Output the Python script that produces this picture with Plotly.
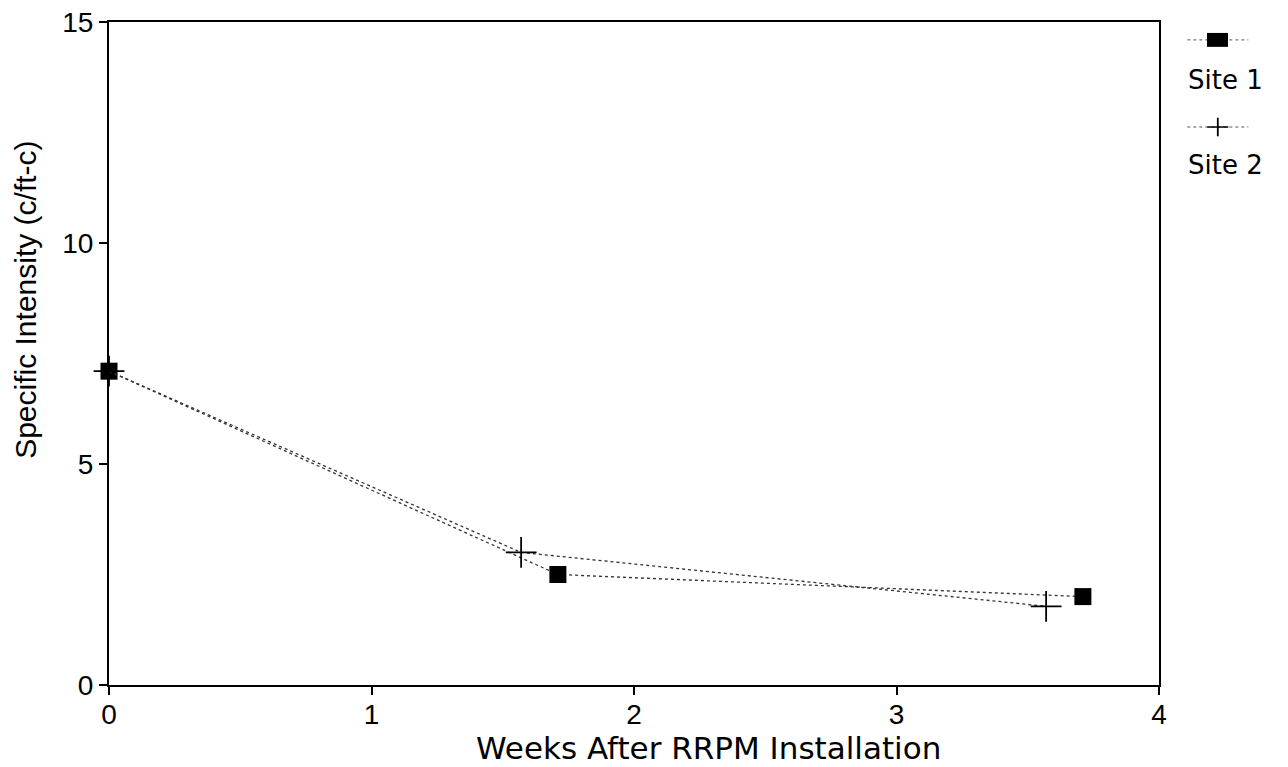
import plotly.graph_objects as go

# Data
site1_weeks = [0, 1.71, 3.71]
site1_intensity = [7.1, 2.5, 2.0]
site2_weeks = [0, 1.57, 3.57]
site2_intensity = [7.1, 3.0, 1.78]

x_ticks = [0, 1, 2, 3, 4]
y_ticks = [0, 5, 10, 15]

font_family = "Liberation Sans, Arial, sans-serif"
wide_family = "DejaVu Sans, Liberation Sans, sans-serif"

fig = go.Figure()

fig.add_trace(go.Scatter(
    x=site1_weeks, y=site1_intensity, mode="lines+markers", name="Site 1",
    line=dict(color="#333333", width=1.3, dash="dot"),
    marker=dict(symbol="square", size=17, color="black"),
    cliponaxis=False, showlegend=False,
))
fig.add_trace(go.Scatter(
    x=site2_weeks, y=site2_intensity, mode="lines+markers", name="Site 2",
    line=dict(color="#333333", width=1.3, dash="dot"),
    marker=dict(symbol="cross-thin", size=22, line=dict(color="black", width=1.8)),
    cliponaxis=False, showlegend=False,
))

# Custom legend: symbol above label, to the right of the plot
legend_items = [("Site 1", 0.973, 0.9125, "square"), ("Site 2", 0.8416, 0.784, "plus")]
for label, ysym, ytext, sym in legend_items:
    fig.add_shape(type="line", xref="paper", yref="paper",
                  x0=1.027, x1=1.085, y0=ysym, y1=ysym,
                  line=dict(color="#555555", width=1, dash="dot"))
    if sym == "square":
        fig.add_shape(type="rect", xref="paper", yref="paper",
                      x0=1.0457, x1=1.0657, y0=ysym - 0.0105, y1=ysym + 0.0105,
                      fillcolor="black", line=dict(width=0))
    else:
        fig.add_shape(type="line", xref="paper", yref="paper",
                      x0=1.056, x1=1.056, y0=ysym - 0.014, y1=ysym + 0.014,
                      line=dict(color="black", width=1.8))
        fig.add_shape(type="line", xref="paper", yref="paper",
                      x0=1.046, x1=1.066, y0=ysym, y1=ysym,
                      line=dict(color="black", width=1.5))
    fig.add_annotation(text=label, xref="paper", yref="paper",
                       x=1.026, y=ytext, xanchor="left", yanchor="middle",
                       showarrow=False, font=dict(size=26, color="black", family=wide_family))

# Axis titles (off-centre in the original, so placed as annotations)
fig.add_annotation(text="Weeks After RRPM Installation", xref="paper", yref="paper",
                   x=0.571, y=-0.095, xanchor="center", yanchor="middle", showarrow=False,
                   font=dict(size=31, color="black", family=wide_family))
fig.add_annotation(text="Specific Intensity (c/ft-c)", xref="paper", yref="paper",
                   x=-0.079, y=0.581, xanchor="center", yanchor="middle", showarrow=False,
                   textangle=-90, font=dict(size=30, color="black", family=font_family))

axis_style = dict(
    showline=True, linecolor="black", linewidth=2, mirror=True,
    ticks="outside", ticklen=8, tickcolor="black", tickwidth=1.5,
    showgrid=False, zeroline=False, ticklabeloverflow="allow", automargin=False,
    tickfont=dict(size=28, color="black", family=font_family),
)

fig.update_xaxes(range=[0, 4], tickvals=x_ticks, ticklabelstandoff=-5, **axis_style)
fig.update_yaxes(range=[0, 15], tickvals=y_ticks, **axis_style)

fig.update_layout(
    width=1288, height=767,
    margin=dict(l=101, r=137, t=14, b=90, autoexpand=False),
    plot_bgcolor="white", paper_bgcolor="white",
    font=dict(family=font_family, color="black"),
)

fig.write_html("out.html")
